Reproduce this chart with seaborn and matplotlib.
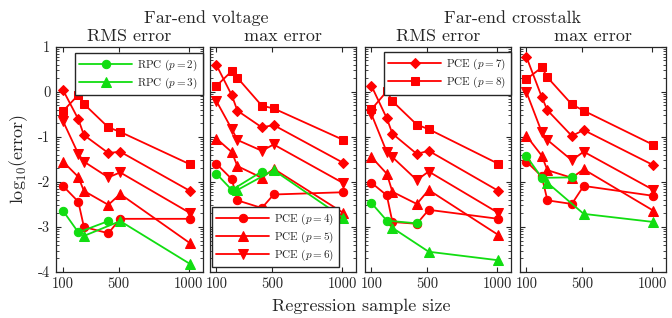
import numpy as np
import pandas as pd
import seaborn as sns
import matplotlib
matplotlib.use("Agg")
import matplotlib.pyplot as plt
from matplotlib.ticker import FixedLocator, FuncFormatter, LogLocator, NullFormatter

# sample sizes
x_pce = [100, 210, 250, 425, 510, 1010]
x_rpc2 = [100, 210, 425]
x_rpc3 = [250, 510, 1010]

# log10(error), far-end voltage, RMS
fv_rms_p4 = [-2.09, -2.44, -3.00, -3.14, -2.82, -2.82]
fv_rms_p5 = [-1.55, -1.89, -2.20, -2.51, -2.27, -3.36]
fv_rms_p6 = [-0.65, -1.38, -1.55, -1.90, -1.79, -2.69]
fv_rms_p7 = [0.04, -0.61, -0.96, -1.36, -1.33, -2.20]
fv_rms_p8 = [-0.43, -0.07, -0.27, -0.79, -0.89, -1.61]
fv_rms_rpc2 = [-2.64, -3.12, -2.87]
fv_rms_rpc3 = [-3.20, -2.87, -3.82]

# far-end voltage, max
fv_max_p4 = [-1.60, -1.94, -2.41, -2.58, -2.28, -2.23]
fv_max_p5 = [-1.04, -1.34, -1.65, -1.91, -1.71, -2.69]
fv_max_p6 = [-0.21, -0.83, -1.07, -1.31, -1.17, -2.03]
fv_max_p7 = [0.59, -0.08, -0.42, -0.79, -0.74, -1.58]
fv_max_p8 = [0.13, 0.46, 0.31, -0.31, -0.37, -1.07]
fv_max_rpc2 = [-1.82, -2.18, -1.77]
fv_max_rpc3 = [-2.18, -1.74, -2.80]

# far-end crosstalk, RMS
fx_rms_p4 = [-2.02, -2.30, -2.89, -2.93, -2.62, -2.82]
fx_rms_p5 = [-1.45, -1.82, -2.22, -2.49, -2.18, -3.18]
fx_rms_p6 = [-0.50, -1.34, -1.45, -1.96, -1.77, -2.69]
fx_rms_p7 = [0.13, -0.59, -0.93, -1.38, -1.31, -2.20]
fx_rms_p8 = [-0.39, 0.01, -0.21, -0.73, -0.83, -1.60]
fx_rms_rpc2 = [-2.47, -2.86, -2.92]
fx_rms_rpc3 = [-3.02, -3.55, -3.74]

# far-end crosstalk, max
fx_max_p4 = [-1.55, -1.88, -2.41, -2.49, -2.09, -2.31]
fx_max_p5 = [-0.98, -1.42, -1.74, -1.91, -1.72, -2.64]
fx_max_p6 = [-0.01, -0.90, -1.07, -1.52, -1.33, -2.18]
fx_max_p7 = [0.77, -0.12, -0.41, -0.98, -0.85, -1.63]
fx_max_p8 = [0.28, 0.54, 0.32, -0.28, -0.42, -1.18]
fx_max_rpc2 = [-1.43, -1.91, -1.90]
fx_max_rpc3 = [-2.02, -2.71, -2.89]

titles = ["RMS error", "max error", "RMS error", "max error"]
panels = [
    [fv_rms_p4, fv_rms_p5, fv_rms_p6, fv_rms_p7, fv_rms_p8, fv_rms_rpc2, fv_rms_rpc3],
    [fv_max_p4, fv_max_p5, fv_max_p6, fv_max_p7, fv_max_p8, fv_max_rpc2, fv_max_rpc3],
    [fx_rms_p4, fx_rms_p5, fx_rms_p6, fx_rms_p7, fx_rms_p8, fx_rms_rpc2, fx_rms_rpc3],
    [fx_max_p4, fx_max_p5, fx_max_p6, fx_max_p7, fx_max_p8, fx_max_rpc2, fx_max_rpc3],
]

red = "#ff0000"
green = "#11dd11"
series = [
    ("PCE ($p=4$)", x_pce, red, "o", 6),
    ("PCE ($p=5$)", x_pce, red, "^", 6.5),
    ("PCE ($p=6$)", x_pce, red, "v", 6.5),
    ("PCE ($p=7$)", x_pce, red, "D", 5),
    ("PCE ($p=8$)", x_pce, red, "s", 5.5),
    ("RPC ($p=2$)", x_rpc2, green, "o", 6),
    ("RPC ($p=3$)", x_rpc3, green, "^", 6.5),
]
legend_sets = [[5, 6], [0, 1, 2], [3, 4], []]
legend_anchor = [("upper right", (1.0, 0.972)), ("lower left", (0.015, 0.021)),
                 ("upper right", (1.0, 0.975)), None]

sns.set_style("ticks")
plt.rcParams.update({
    "font.family": ["cmr10"],
    "mathtext.fontset": "cm",
    "axes.unicode_minus": False,
    "xtick.direction": "in",
    "ytick.direction": "in",
    "xtick.top": True,
    "ytick.right": True,
    "axes.edgecolor": "0.15",
    "axes.linewidth": 0.9,
})

W, H = 672, 318
fig = plt.figure(figsize=(W / 100, H / 100), dpi=100)
lefts = [56, 209.5, 364.5, 519.5]
pw = 146.5
top, bot = 46.7, 272

for k, left in enumerate(lefts):
    ax = fig.add_axes([left / W, 1 - bot / H, pw / W, (bot - top) / H])
    handles = []
    for (lab, xs, col, mk, ms), vals in zip(series, panels[k]):
        df = pd.DataFrame({"n": xs, "err": 10.0 ** np.array(vals)})
        sns.lineplot(data=df, x="n", y="err", ax=ax, color=col, marker=mk,
                     markersize=ms, markeredgecolor=col, lw=1.3,
                     estimator=None, label=lab)
    h, l = ax.get_legend_handles_labels()
    ax.set_yscale("log")
    ax.set_ylim(1e-4, 1e1)
    ax.set_xlim(50, 1100)
    ax.xaxis.set_major_locator(FixedLocator([100, 500, 1000]))
    ax.yaxis.set_major_locator(FixedLocator([10.0 ** e for e in range(-4, 2)]))
    ax.yaxis.set_minor_locator(LogLocator(base=10, subs=np.arange(2, 10)))
    ax.yaxis.set_minor_formatter(NullFormatter())
    if k == 0:
        ax.yaxis.set_major_formatter(FuncFormatter(lambda v, p: "%d" % round(np.log10(v))))
    else:
        ax.yaxis.set_major_formatter(NullFormatter())
    ax.tick_params(which="major", length=3.5, width=0.8, labelsize=10.5, pad=4)
    ax.tick_params(which="minor", length=2, width=0.6)
    ax.set_xlabel("")
    ax.set_ylabel("")
    ax.set_title(titles[k], fontsize=13, pad=4)
    if legend_sets[k]:
        loc, anc = legend_anchor[k]
        ax.legend([h[i] for i in legend_sets[k]], [l[i] for i in legend_sets[k]],
                  loc=loc, bbox_to_anchor=anc, borderaxespad=0, fontsize=8,
                  frameon=True, fancybox=False, framealpha=1, edgecolor="0.15",
                  handlelength=4.8, handletextpad=0.45, labelspacing=0.25,
                  borderpad=0.4)
    else:
        lg = ax.get_legend()
        if lg is not None:
            lg.remove()
    sns.despine(ax=ax, top=False, right=False)

fig.text(0.3065, 1 - 23.3 / H, "Far-end voltage", ha="center", va="baseline", fontsize=13)
fig.text(0.763, 1 - 23.3 / H, "Far-end crosstalk", ha="center", va="baseline", fontsize=13)
fig.text(0.537, 1 - 306 / H, "Regression sample size", ha="center", va="center", fontsize=13)
fig.text(19 / W, 0.5, "log$_{10}$(error)", ha="center", va="center",
         rotation=90, fontsize=13)

fig.savefig("out.png", dpi=100)
